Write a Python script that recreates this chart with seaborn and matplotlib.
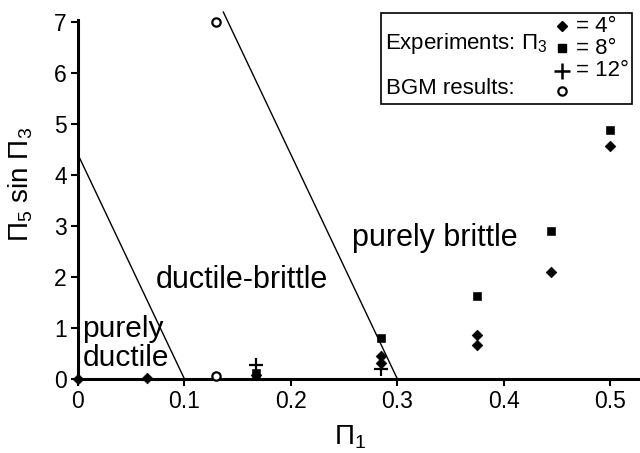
import matplotlib
matplotlib.use("Agg")
import matplotlib.pyplot as plt
import seaborn as sns
import pandas as pd
from matplotlib.patches import Rectangle

# ---- data ----
d4_x = [0.0, 0.065, 0.167, 0.285, 0.285, 0.375, 0.375, 0.444, 0.5]
d4_y = [0.0, 0.02, 0.08, 0.45, 0.32, 0.87, 0.66, 2.1, 4.56]
d8_x = [0.167, 0.285, 0.375, 0.444, 0.5]
d8_y = [0.12, 0.81, 1.62, 2.9, 4.88]
d12_x = [0.167, 0.285]
d12_y = [0.28, 0.2]
bgm_x = [0.13, 0.13]
bgm_y = [7.0, 0.05]
line1_x = [0.0, 0.1]
line1_y = [4.4, 0.0]
line2_x = [0.1364, 0.3]
line2_y = [7.2, 0.0]
xticks = [0, 0.1, 0.2, 0.3, 0.4, 0.5]
xticklabels = ["0", "0.1", "0.2", "0.3", "0.4", "0.5"]
yticks = [0, 1, 2, 3, 4, 5, 6, 7]

sns.set_style("ticks")
plt.rcParams["font.family"] = ["Liberation Sans", "DejaVu Sans"]
plt.rcParams["mathtext.fontset"] = "custom"
plt.rcParams["mathtext.rm"] = "Liberation Sans"
plt.rcParams["mathtext.it"] = "Liberation Sans"
for k in ["text.color", "axes.labelcolor", "xtick.color", "ytick.color", "axes.edgecolor"]:
    plt.rcParams[k] = "black"

fig = plt.figure(figsize=(6.4, 4.53), dpi=100)
ax = fig.add_axes([78/640, 1-379/453, 560/640, 359/453])

ax.plot(line1_x, line1_y, color="black", lw=1.0, clip_on=False)
ax.plot(line2_x, line2_y, color="black", lw=1.0, clip_on=False)

sns.scatterplot(x=d4_x, y=d4_y, marker="D", s=30, color="black", edgecolor="black", ax=ax, clip_on=False, zorder=5)
sns.scatterplot(x=d8_x, y=d8_y, marker="s", s=30, color="black", edgecolor="black", ax=ax, clip_on=False, zorder=5)
sns.scatterplot(x=d12_x, y=d12_y, marker="+", s=110, color="black", linewidth=1.6, ax=ax, clip_on=False, zorder=5)
sns.scatterplot(x=bgm_x, y=bgm_y, marker="o", s=36, facecolor="white", edgecolor="black", linewidth=1.6, ax=ax, clip_on=False, zorder=5)

ax.set_xlim(0, 0.526)
ax.set_ylim(0, 7.04)
ax.set_xticks(xticks)
ax.set_xticklabels(xticklabels)
ax.set_yticks(yticks)
ax.tick_params(labelsize=16.5, width=1.5, length=5, direction="out", color="black", labelcolor="black", pad=3)
for s in ["top", "right"]:
    ax.spines[s].set_visible(False)
for s in ["left", "bottom"]:
    ax.spines[s].set_linewidth(2.2)
    ax.spines[s].set_color("black")

ax.set_xlabel(r"Π$_1$", fontsize=20, color="black")
ax.xaxis.set_label_coords(0.486, -0.125)
ax.set_ylabel(r"Π$_5$ sin Π$_3$", fontsize=20, color="black")
ax.yaxis.set_label_coords(-0.077, 0.543)

ax.text(0.004, 0.82, "purely", fontsize=21.5, va="baseline", ha="left")
ax.text(0.004, 0.25, "ductile", fontsize=21.5, va="baseline", ha="left")
ax.text(0.073, 1.78, "ductile-brittle", fontsize=22, va="baseline", ha="left")
ax.text(0.2575, 2.6, "purely brittle", fontsize=22, va="baseline", ha="left")

# legend box in figure pixel coordinates
def fx(px):
    return px / 640
def fy(py):
    return 1 - py / 453

fig.patches.append(Rectangle((fx(381), fy(104)), fx(632) - fx(381), fy(13) - fy(104),
                             transform=fig.transFigure, fill=False, edgecolor="black", lw=1.2))
fig.text(fx(385), fy(43), r"Experiments: Π$_3$", fontsize=16, va="center", ha="left")
fig.text(fx(386), fy(88), "BGM results:", fontsize=16, va="center", ha="left")
leg = fig.add_axes([0, 0, 1, 1], facecolor="none")
leg.set_axis_off()
leg.set_xlim(0, 1)
leg.set_ylim(0, 1)
leg.plot([fx(562)], [fy(26)], marker="D", ms=5.5, color="black")
leg.plot([fx(562)], [fy(48)], marker="s", ms=5.5, color="black")
leg.plot([fx(562)], [fy(71)], marker="+", ms=11, mew=1.8, color="black")
leg.plot([fx(562)], [fy(91)], marker="o", ms=6, mfc="white", mec="black", mew=1.6)
fig.text(fx(576), fy(26), "= 4°", fontsize=16, va="center", ha="left")
fig.text(fx(576), fy(48), "= 8°", fontsize=16, va="center", ha="left")
fig.text(fx(576), fy(70), "= 12°", fontsize=16, va="center", ha="left")

fig.savefig("out.png", dpi=100)
